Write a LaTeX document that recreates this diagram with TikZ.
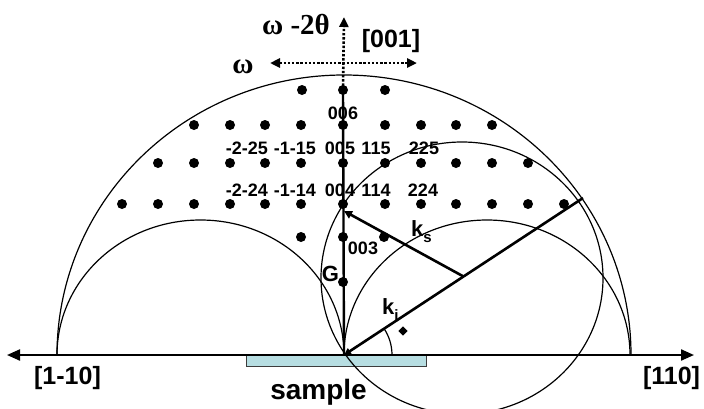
\documentclass[tikz,border=0pt]{standalone}
\usepackage{fontspec}
\setmainfont{Liberation Sans}
\newfontfamily\greekserif{Liberation Serif}
\usetikzlibrary{arrows.meta}
\definecolor{samplefill}{RGB}{183,222,226}
\definecolor{sampleedge}{RGB}{60,60,60}
\begin{document}
\begin{tikzpicture}[x=1pt,y=-1pt,
  dot/.style={circle,fill=black,inner sep=0pt,minimum size=10pt},
  lbl/.style={font=\fontsize{18}{18}\selectfont\bfseries,inner sep=0pt},
  axlbl/.style={font=\fontsize{25}{25}\selectfont\bfseries,inner sep=0pt},
  grk/.style={font=\fontsize{29}{29}\selectfont\greekserif\bfseries,inner sep=0pt},
  kfont/.style={font=\fontsize{22}{22}\selectfont\bfseries,inner sep=0pt},
  circline/.style={line width=1.2pt},
  vecline/.style={line width=2.6pt},
  axisline/.style={line width=2.2pt},
  dotline/.style={line width=2.6pt,dash pattern=on 2.4pt off 1.8pt},
  smalltip/.style={{Triangle[length=10pt,width=9pt]}-{Triangle[length=10pt,width=9pt]}}
]
\useasboundingbox (0,0) rectangle (704,408);
\clip (0,0) rectangle (704,408);

% key points
\coordinate (O) at (344,355);
\coordinate (axL) at (7,355);
\coordinate (axR) at (694,355);
\coordinate (Far) at (583,198);
\coordinate (C) at (463.5,276.5);
\coordinate (P004) at (344,211);
\coordinate (Top) at (344,17);
\coordinate (V006) at (343,90);
\coordinate (wL) at (270,63);
\coordinate (wR) at (417,63);

% sample
\draw[fill=samplefill,draw=sampleedge,line width=1pt] (246.7,355) rectangle (426.7,366.7);

% circles (upper halves)
\begin{scope}
  \clip (0,0) rectangle (704,355);
  \draw[circline] (344,355) ellipse [x radius=287pt, y radius=280pt];
  \draw[circline] (200.5,355) ellipse [x radius=143.5pt, y radius=135pt];
  \draw[circline] (487,355) ellipse [x radius=143pt, y radius=135pt];
\end{scope}
% Ewald circle
\draw[circline] (462,278) ellipse [x radius=141pt, y radius=136pt];

% lattice points
\foreach \x/\i in {302/a,343/b,385/c} \node[dot] (r1\i) at (\x,90) {};
\foreach \x/\i in {194/a,230/b,265/c,301/d,343/e,385/f,421/g,456/h,492/i} \node[dot] (r2\i) at (\x,125) {};
\foreach \x/\i in {158/a,194/b,230/c,265/d,301/e,343/f,385/g,421/h,456/i,492/j,528/k} \node[dot] (r3\i) at (\x,163) {};
\foreach \x/\i in {122/a,158/b,194/c,230/d,265/e,301/f,343/g,385/h,421/i,456/j,492/k,528/l,564/m} \node[dot] (r4\i) at (\x,204) {};
\foreach \x/\i in {301/a,343/b,384/c} \node[dot] (r5\i) at (\x,237) {};
\node[dot] (r6) at (343,282) {};

% axis
\draw[axisline,{Triangle[length=13pt,width=11pt]}-{Triangle[length=13pt,width=11pt]}] (axL) -- (axR);

% vertical line and dotted arrows
\draw[line width=2.4pt] (O) -- (V006);
\draw[dotline,-{Triangle[length=10pt,width=9pt]}] (V006) -- (Top);
\draw[dotline,smalltip] (wL) -- (wR);

% wave vectors
\draw[vecline,-{Triangle[length=7pt,width=7pt]}] (Far) -- (O);
\draw[vecline,-{Triangle[length=8pt,width=8pt]}] (C) -- (P004);

% angle arc and diamond
\draw[line width=1.2pt] (O) ++(48,0) arc[start angle=0, end angle=33, radius=48pt];
\node[fill=black,rotate=45,minimum size=6.5pt,inner sep=0pt] (dia) at (403,331) {};

% labels
\node[grk] (lw2t) at (296,24) {ω -2θ};
\node[axlbl] (l001) at (391,41) {[001]};
\node[grk] (lw) at (243,67) {ω};
\node[lbl] (l006) at (343,113) {006};
\node[lbl] (l225m) at (247,148) {-2-25};
\node[lbl] (l115m) at (295,148) {-1-15};
\node[lbl] (l005) at (340,148) {005};
\node[lbl] (l115) at (376,148) {115};
\node[lbl] (l225) at (424,148) {225};
\node[lbl] (l224m) at (247,190) {-2-24};
\node[lbl] (l114m) at (295,190) {-1-14};
\node[lbl] (l004) at (340,190) {004};
\node[lbl] (l114) at (376,190) {114};
\node[lbl] (l224) at (423,190) {224};
\node[lbl] (l003) at (363,248) {003};
\node[kfont,anchor=base] (lG) at (330.5,281) {G};
\node[kfont,anchor=base west] (lks) at (411,236) {k\raisebox{-6pt}{\fontsize{15}{15}\selectfont s}};
\node[kfont,anchor=base west] (lki) at (382,314) {k\raisebox{-6pt}{\fontsize{15}{15}\selectfont i}};
\node[axlbl] (l1m10) at (67.5,378) {[1-10]};
\node[axlbl] (l110) at (671.5,378) {[110]};
\node[font=\fontsize{28}{28}\selectfont\bfseries,inner sep=0pt,anchor=base] (lsample) at (318.5,399) {sample};
\end{tikzpicture}
\end{document}
